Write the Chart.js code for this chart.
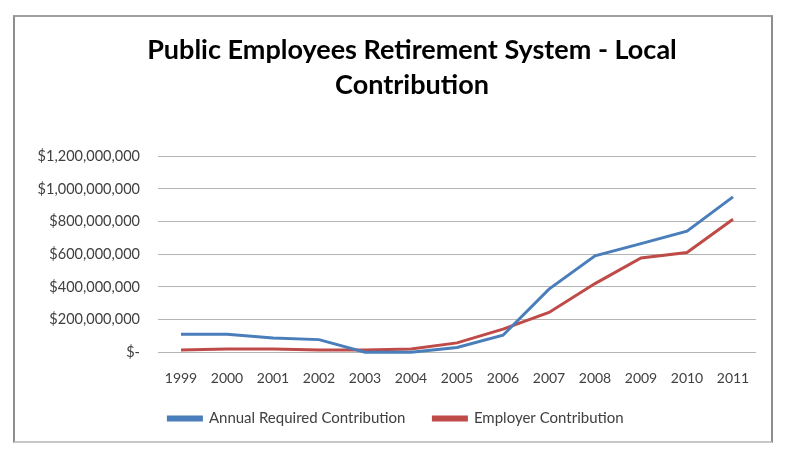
<!DOCTYPE html>
<html>
<head>
<meta charset="utf-8">
<script src="https://cdn.jsdelivr.net/npm/chart.js@4.4.0/dist/chart.umd.min.js"></script>
<style>
  body { margin: 0; background: #fff; }
  #frame {
    position: absolute; left: 13px; top: 15px; width: 756px; height: 424px;
    border: 2px solid #8e8e8e; border-bottom-color: #c8c8c8; border-top-color: #a0a0a0;
  }
  #wrap { position: absolute; left: 0; top: 0; width: 787px; height: 472px; }
</style>
</head>
<body>
<div id="frame"></div>
<div id="wrap"><canvas id="pers"></canvas></div>
<script>
// years on the x axis
const years = ["1999", "2000", "2001", "2002", "2003", "2004", "2005",
               "2006", "2007", "2008", "2009", "2010", "2011"];

// values, in dollars
const annualRequired = [110e6, 110e6, 87e6, 77e6, 0, 0, 29e6,
                        104e6, 386e6, 590e6, 665e6, 741e6, 951e6];
const employerContrib = [14e6, 20e6, 20e6, 14e6, 14e6, 20e6, 57e6,
                         141e6, 243e6, 420e6, 577e6, 610e6, 814e6];

const titleLines = ["Public Employees Retirement System - Local", "Contribution"];

const blue = "#4a7ebb";
const red = "#be4b48";
const font = "Lato, 'Liberation Sans', sans-serif";

function money(v) {
  if (v === 0) return "$-";
  return "$" + v.toLocaleString("en-US");
}

// excel centres the title and legend over the frame, not over the plot,
// so nudge those two boxes sideways once the layout is done
const nudgeBoxes = {
  id: "nudgeBoxes",
  afterLayout: function (chart) {
    const t = chart.titleBlock;
    t.left += 34; t.right += 34;
    const l = chart.legend;
    l.left += 18; l.right += 18;
    l.top -= 21; l.bottom -= 21;
  },
};

const ctx = document.getElementById("pers").getContext("2d");
new Chart(ctx, {
  type: "line",
  data: {
    labels: years,
    datasets: [
      {
        label: "Annual Required Contribution",
        data: annualRequired,
        borderColor: blue,
        backgroundColor: blue,
        borderWidth: 3,
        pointRadius: 0,
        tension: 0,
        clip: false,
      },
      {
        label: "Employer Contribution",
        data: employerContrib,
        borderColor: red,
        backgroundColor: red,
        borderWidth: 3,
        pointRadius: 0,
        tension: 0,
        clip: false,
      },
    ],
  },
  options: {
    responsive: true,
    maintainAspectRatio: false,
    animation: false,
    layout: { padding: { left: 0, right: 31, top: 0, bottom: 15 } },
    plugins: {
      title: {
        display: true,
        text: titleLines,
        color: "#000",
        font: { family: font, size: 27, weight: "bold", lineHeight: 1.3 },
        padding: { top: 33, bottom: 53 },
      },
      legend: {
        position: "bottom",
        labels: {
          color: "#404040",
          font: { family: font, size: 15 },
          boxWidth: 33,
          boxHeight: 3,
          padding: 28,
        },
      },
      tooltip: { enabled: false },
    },
    scales: {
      x: {
        offset: true,
        grid: { display: false, drawTicks: false },
        border: { display: false },
        ticks: { color: "#404040", font: { family: font, size: 14 }, padding: 17.5, maxRotation: 0 },
      },
      y: {
        min: 0,
        max: 1200000000,
        afterFit: function (scale) { scale.width = 158; },
        grid: { color: "#b4b4b4", lineWidth: 1, drawTicks: false },
        border: { display: false },
        ticks: {
          stepSize: 200000000,
          color: "#404040",
          font: { family: font, size: 14.5 },
          padding: 18,
          callback: function (v) { return money(v); },
        },
      },
    },
  },
  plugins: [nudgeBoxes],
});
</script>
</body>
</html>
